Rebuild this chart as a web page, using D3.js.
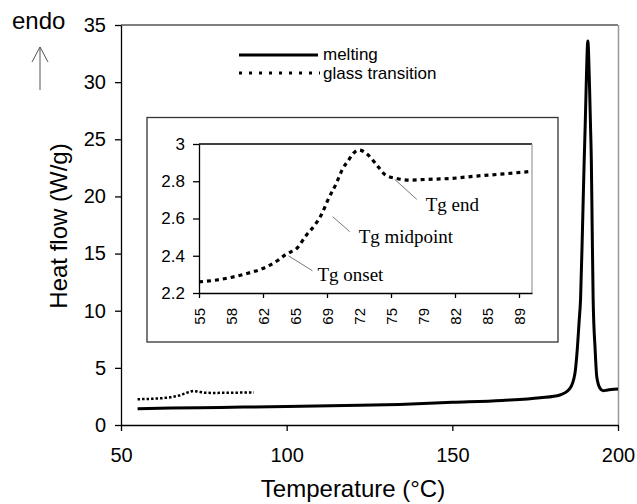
<!DOCTYPE html>
<html>
<head>
<meta charset="utf-8">
<script src="https://cdn.jsdelivr.net/npm/d3@7"></script>
<style>
  body { margin: 0; background: #fff; }
  svg { display: block; font-family: "Liberation Sans", Arial, sans-serif; }
  .axis .domain, .axis line { stroke: #000; stroke-width: 1.3; }
</style>
</head>
<body>
<svg id="chart"></svg>
<script>
// melting scan, temperature (°C) and heat flow (W/g)
const meltTemp = [55, 65, 80, 100, 122, 134, 150, 165, 176.5, 182.5, 185.5, 187, 187.7, 188.3, 188.7,
    189.3, 189.8, 190.1, 190.4, 190.9, 191.4, 191.7, 191.95, 192.2, 192.5, 193.1, 193.6, 194.6, 195.5,
    196.6, 198, 200];
const meltHF = [1.42, 1.48, 1.54, 1.62, 1.72, 1.8, 1.98, 2.15, 2.38, 2.63, 3.2, 4.5, 6.6, 9.2, 11,
    17.4, 23.2, 26.2, 29.7, 33.6, 29.7, 26.2, 23.2, 17.4, 11, 6.6, 4.2, 3.2, 3.0,
    3.05, 3.1, 3.15];

// glass transition scan
const glassTemp = [55, 56.9, 60.1, 61.7, 63.4, 64.3, 65.4, 66.4, 67.3, 68.0, 68.7, 69.6, 70.2, 70.9,
    71.4, 72.0, 73.0, 74.0, 74.9, 76.0, 77.4, 79.2, 81.7, 84.5, 87.5, 90.1];
const glassHF = [2.26, 2.27, 2.305, 2.33, 2.376, 2.41, 2.44, 2.51, 2.565, 2.62, 2.70, 2.79, 2.86, 2.914,
    2.95, 2.968, 2.94, 2.88, 2.83, 2.815, 2.806, 2.81, 2.815, 2.828, 2.84, 2.852];

const mainXTicks = [50, 100, 150, 200];
const mainYTicks = [0, 5, 10, 15, 20, 25, 30, 35];
const insetYTicks = [2.2, 2.4, 2.6, 2.8, 3];
const insetXLabels = ["55", "58", "62", "65", "69", "72", "75", "79", "82", "85", "89"];
const insetXStep = 3.4;

const annotations = [
    {label: "Tg onset", t: 64.5, v: 2.40, lx: 24, ly: 15, tx: 29, ty: 25},
    {label: "Tg midpoint", t: 69.2, v: 2.61, lx: 17, ly: 15, tx: 26, ty: 26},
    {label: "Tg end", t: 75.8, v: 2.81, lx: 22, ly: 20, tx: 31, ty: 32}
];

const melt = meltTemp.map((t, i) => ({t, v: meltHF[i]}));
const glass = glassTemp.map((t, i) => ({t, v: glassHF[i]}));

const width = 637, height = 504;
const svg = d3.select("#chart").attr("width", width).attr("height", height);

// main plot
const x = d3.scaleLinear().domain([50, 200]).range([121, 618]);
const y = d3.scaleLinear().domain([0, 35]).range([425, 25]);

svg.append("line").attr("x1", 121).attr("x2", 618).attr("y1", 25).attr("y2", 25)
    .attr("stroke", "#000").attr("stroke-width", 1.2);
svg.append("line").attr("x1", 618.5).attr("x2", 618.5).attr("y1", 25).attr("y2", 425)
    .attr("stroke", "#999").attr("stroke-width", 1.5);

const xAxis = svg.append("g").attr("class", "axis").attr("transform", "translate(0,425)")
    .call(d3.axisBottom(x).tickValues(mainXTicks).tickSize(6).tickPadding(17).tickSizeOuter(0));
const yAxis = svg.append("g").attr("class", "axis").attr("transform", "translate(121,0)")
    .call(d3.axisLeft(y).tickValues(mainYTicks).tickSize(6).tickPadding(9).tickSizeOuter(0));
svg.selectAll(".axis text").attr("font-size", 20).attr("fill", "#000")
    .attr("font-family", "'Liberation Sans', Arial, sans-serif");

const line = d3.line().x(d => x(d.t)).y(d => y(d.v)).curve(d3.curveMonotoneX);

svg.append("path").datum(melt).attr("d", line)
    .attr("fill", "none").attr("stroke", "#000").attr("stroke-width", 3);
svg.append("path").datum(glass).attr("d", line)
    .attr("fill", "none").attr("stroke", "#000").attr("stroke-width", 2.5)
    .attr("stroke-dasharray", "2.5,2");

// titles
svg.append("text").attr("x", 353).attr("y", 497).attr("text-anchor", "middle")
    .attr("font-size", 24).text("Temperature (°C)");
svg.append("text").attr("transform", "translate(67,226) rotate(-90)").attr("text-anchor", "middle")
    .attr("font-size", 24).text("Heat flow (W/g)");
svg.append("text").attr("x", 12).attr("y", 29).attr("font-size", 24).text("endo");
svg.append("line").attr("x1", 40).attr("x2", 40).attr("y1", 47).attr("y2", 90)
    .attr("stroke", "#555").attr("stroke-width", 1);
svg.append("path").attr("d", "M32,62 L40,47 L48,62")
    .attr("fill", "none").attr("stroke", "#555").attr("stroke-width", 1);

// legend
const legend = svg.append("g");
legend.append("line").attr("x1", 239).attr("x2", 318).attr("y1", 55).attr("y2", 55)
    .attr("stroke", "#000").attr("stroke-width", 3);
legend.append("line").attr("x1", 239).attr("x2", 320).attr("y1", 73).attr("y2", 73)
    .attr("stroke", "#000").attr("stroke-width", 3).attr("stroke-dasharray", "3,7");
legend.append("text").attr("x", 323).attr("y", 60).attr("font-size", 17).text("melting");
legend.append("text").attr("x", 323).attr("y", 79).attr("font-size", 17).text("glass transition");

// inset
const inset = svg.append("g");
inset.append("rect").attr("x", 147).attr("y", 117.5).attr("width", 411).attr("height", 224.5)
    .attr("fill", "#fff").attr("stroke", "#333").attr("stroke-width", 1.3);

const ix = d3.scaleLinear().domain([55, 55 + 333 / (32 / insetXStep)]).range([199, 532]);
const iy = d3.scaleLinear().domain([2.2, 3]).range([293, 144]);

inset.append("line").attr("x1", 199).attr("x2", 532).attr("y1", 144).attr("y2", 144)
    .attr("stroke", "#000").attr("stroke-width", 1.3);
inset.append("line").attr("x1", 532).attr("x2", 532).attr("y1", 144).attr("y2", 293)
    .attr("stroke", "#999").attr("stroke-width", 1.2);

const insetXVals = insetXLabels.map((d, i) => 55 + i * insetXStep);
const ixAxis = inset.append("g").attr("class", "axis").attr("transform", "translate(0,293)")
    .call(d3.axisBottom(ix).tickValues(insetXVals).tickSize(5).tickSizeOuter(0)
        .tickFormat((d, i) => insetXLabels[i]));
ixAxis.selectAll(".tick line").attr("opacity", (d, i) => i % 2 === 0 ? 1 : 0);
ixAxis.selectAll("text")
    .attr("transform", "rotate(-90)").attr("text-anchor", "end")
    .attr("x", -15).attr("y", 0).attr("dy", "0.35em")
    .attr("font-size", 15).attr("fill", "#000");

const iyAxis = inset.append("g").attr("class", "axis").attr("transform", "translate(199,0)")
    .call(d3.axisLeft(iy).tickValues(insetYTicks).tickSize(6).tickPadding(8).tickSizeOuter(0)
        .tickFormat(d3.format("")));
iyAxis.selectAll("text").attr("font-size", 17).attr("fill", "#000");

const iline = d3.line().x(d => ix(d.t)).y(d => iy(d.v)).curve(d3.curveMonotoneX);
inset.append("path").datum(glass).attr("d", iline)
    .attr("fill", "none").attr("stroke", "#000").attr("stroke-width", 3.2)
    .attr("stroke-dasharray", "4,4");

annotations.forEach(a => {
    const px = ix(a.t), py = iy(a.v);
    inset.append("line").attr("x1", px).attr("y1", py).attr("x2", px + a.lx).attr("y2", py + a.ly)
        .attr("stroke", "#777").attr("stroke-width", 1);
    inset.append("text").attr("x", px + a.tx).attr("y", py + a.ty)
        .attr("font-family", "'Liberation Serif', 'Times New Roman', serif")
        .attr("font-size", 19).text(a.label);
});
</script>
</body>
</html>
